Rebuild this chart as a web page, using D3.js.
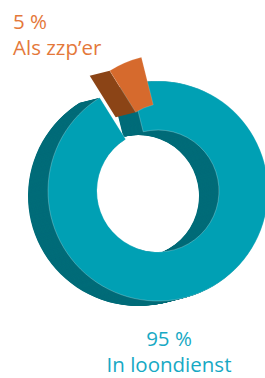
<!DOCTYPE html>
<html>
<head>
<meta charset="utf-8">
<script src="https://cdn.jsdelivr.net/npm/d3@7/dist/d3.min.js"></script>
<style>
    body { margin: 0; background: #ffffff; }
    svg { display: block; }
</style>
</head>
<body>
<div id="chart"></div>
<script>
// Data
const categories = ["Als zzp\u2019er", "In loondienst"];
const values = [5, 95];
const pctLabels = ["5 %", "95 %"];

const faceColors = ["#d66a2d", "#00a0b4"];
const sideColors = ["#8b4416", "#006c79"];
const textColors = ["#e4783a", "#17a9c4"];

// Chart dimensions
const width = 265;
const height = 378;
const cx = 158;
const cy = 191;
const outerR = 110;
const innerR = 61;

// Depth of the 3d ring (back face offset) and explode offset of the small slice
const depth = [-20, 5];
const steps = 40;
const explode = [10, -27];

const svg = d3.select("#chart")
    .append("svg")
    .attr("width", width)
    .attr("height", height);

const rad = deg => deg * Math.PI / 180;

const pie = d3.pie()
    .sort(null)
    .value(d => d)
    .startAngle(rad(-32))
    .endAngle(rad(328));

const slices = pie(values);

const arc = d3.arc()
    .innerRadius(innerR)
    .outerRadius(outerR);

const point = (r, a) => [r * Math.sin(a), -r * Math.cos(a)];

// Big slice: extruded ring, drawn back to front
const big = slices[1];
const bigG = svg.append("g");
for (let i = steps; i >= 1; i--) {
    const t = i / steps;
    bigG.append("path")
        .attr("transform", `translate(${cx + depth[0] * t}, ${cy + depth[1] * t})`)
        .attr("d", arc(big))
        .attr("fill", sideColors[1]);
}
bigG.append("path")
    .attr("transform", `translate(${cx}, ${cy})`)
    .attr("d", arc(big))
    .attr("fill", faceColors[1])
    .attr("stroke", "rgba(255,255,255,0.35)")
    .attr("stroke-width", 0.7);

// Small slice: exploded, with its visible radial side face
const small = slices[0];
const sx = cx + explode[0];
const sy = cy + explode[1];
const smallG = svg.append("g")
    .attr("transform", `translate(${sx}, ${sy})`);

const fo = point(outerR, small.startAngle);
const fi = point(innerR, small.startAngle);
const bo = [fo[0] + depth[0], fo[1] + depth[1]];
const bi = [fi[0] + depth[0], fi[1] + depth[1]];

smallG.append("path")
    .attr("d", d3.line()([fo, bo, bi, fi]) + "Z")
    .attr("fill", sideColors[0]);

smallG.append("path")
    .attr("d", arc(small))
    .attr("fill", faceColors[0])
    .attr("stroke", "rgba(255,255,255,0.25)")
    .attr("stroke-width", 0.6);

// Labels
const font = "'Open Sans', sans-serif";
const fontSize = 20.5;

const smallLabel = svg.append("g")
    .attr("fill", textColors[0])
    .style("font-family", font)
    .style("font-size", fontSize + "px");
smallLabel.append("text").attr("x", 13).attr("y", 29).text(pctLabels[0]);
smallLabel.append("text").attr("x", 13).attr("y", 55).text(categories[0]);

const bigLabel = svg.append("g")
    .attr("fill", textColors[1])
    .attr("text-anchor", "middle")
    .style("font-family", font)
    .style("font-size", fontSize + "px");
bigLabel.append("text").attr("x", 169).attr("y", 346).text(pctLabels[1]);
bigLabel.append("text").attr("x", 169).attr("y", 372).text(categories[1]);
</script>
</body>
</html>
